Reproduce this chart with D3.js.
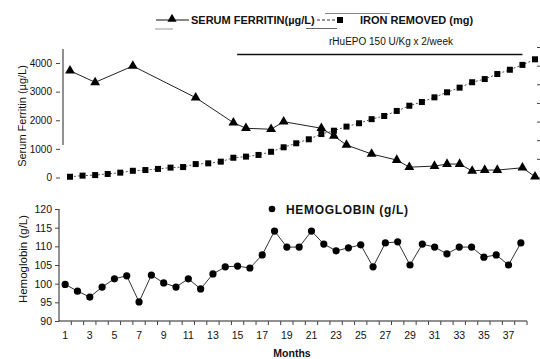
<!DOCTYPE html>
<html>
<head>
<meta charset="utf-8">
<script src="https://cdn.jsdelivr.net/npm/d3@7"></script>
<style>
  body { margin: 0; background: #fff; }
  svg { font-family: "Liberation Sans", Arial, sans-serif; }
</style>
</head>
<body>
<script>
var width = 540
var height = 359

// months 1..38
var months = [1,2,3,4,5,6,7,8,9,10,11,12,13,14,15,16,17,18,19,20,21,22,23,24,25,26,27,28,29,30,31,32,33,34,35,36,37,38]
var monthLabels = [1,3,5,7,9,11,13,15,17,19,21,23,25,27,29,31,33,35,37]

// serum ferritin (ug/L), measured only on some months
var ferritinMonths = [1,3,6,11,14,15,17,18,21,22,23,25,27,28,30,31,32,33,34,35,37,38]
var ferritin = [3730,3325,3895,2790,1915,1720,1685,1950,1720,1450,1135,820,610,360,400,470,470,230,260,260,340,30]

// cumulative iron removed (mg)
var ironRemoved = [40,100,130,190,260,360,400,460,530,560,720,760,850,1060,1120,1210,1380,1620,1835,2050,2330,2510,2730,2910,3130,3300,3570,3850,4050,4300,4570,4820,5110,5280,5550,5780,6040,6340]

// hemoglobin (g/L)
var hemoglobin = [99.8,98,96.4,99.1,101.3,102.1,95.1,102.3,100.2,99.1,101.3,98.6,102.6,104.5,104.7,104.2,107.7,114.1,109.8,109.8,114.1,110.6,108.8,109.6,110.4,104.5,110.9,111.2,105,110.6,109.8,108,109.8,109.8,107.1,107.7,105,110.9]

var ferritinTicks = [0,1000,2000,3000,4000]
var ironTicks = [0,1000,2000,3000,4000,5000,6000,7000]
var hbTicks = [90,95,100,105,110,115,120]
var epoRange = [14.3, 37]

var svg = d3.select('body').append('svg')
  .attr('width', width)
  .attr('height', height)

// ---------- top panel ----------
var xTop = d3.scaleLinear().domain([1, 38]).range([70, 535])
var yFer = d3.scaleLinear().domain([0, 4000]).range([177.5, 63])
var yIron = d3.scaleLinear().domain([0, 7000]).range([177.5, 47])

var topG = svg.append('g')

topG.append('line')
  .attr('x1', 63).attr('x2', 63)
  .attr('y1', 49).attr('y2', 145)
  .attr('stroke', '#222').attr('stroke-width', 1)

topG.append('g')
  .attr('transform', 'translate(60,0)')
  .call(d3.axisLeft(yFer).tickValues(ferritinTicks).tickFormat(d3.format('d')).tickSize(4).tickPadding(4))
  .call(g => g.select('.domain').remove())
  .call(g => g.selectAll('text').attr('font-size', 10).attr('fill', '#111'))
  .call(g => g.selectAll('line').attr('stroke', '#444'))

topG.append('g')
  .attr('transform', 'translate(537,0)')
  .call(d3.axisRight(yIron).tickValues(ironTicks).tickSize(4).tickFormat(''))
  .call(g => g.select('.domain').remove())
  .call(g => g.selectAll('line').attr('stroke', '#444'))

topG.append('text')
  .attr('transform', 'translate(26,116) rotate(-90)')
  .attr('text-anchor', 'middle')
  .attr('font-size', 11)
  .attr('fill', '#111')
  .text('Serum Ferritin (µg/L)')

// rHuEPO bar
topG.append('line')
  .attr('x1', xTop(epoRange[0])).attr('x2', xTop(epoRange[1]))
  .attr('y1', 54.5).attr('y2', 54.5)
  .attr('stroke', '#111').attr('stroke-width', 1.6)
topG.append('text')
  .attr('x', 391).attr('y', 45)
  .attr('text-anchor', 'middle')
  .attr('font-size', 10)
  .attr('fill', '#111')
  .text('rHuEPO 150 U/Kg x 2/week')

// iron removed
var ironLine = d3.line()
  .x((d, i) => xTop(months[i]))
  .y(d => yIron(d))
topG.append('path')
  .datum(ironRemoved)
  .attr('d', ironLine)
  .attr('fill', 'none')
  .attr('stroke', '#555')
  .attr('stroke-width', 1)
  .attr('stroke-dasharray', '2,2')
topG.selectAll('.sq')
  .data(ironRemoved)
  .enter().append('rect')
  .attr('class', 'sq')
  .attr('x', (d, i) => xTop(months[i]) - 3)
  .attr('y', d => yIron(d) - 3)
  .attr('width', 6).attr('height', 6)
  .attr('fill', '#000')

// serum ferritin
var ferLine = d3.line()
  .x((d, i) => xTop(ferritinMonths[i]))
  .y(d => yFer(d))
topG.append('path')
  .datum(ferritin)
  .attr('d', ferLine)
  .attr('fill', 'none')
  .attr('stroke', '#222')
  .attr('stroke-width', 1)
topG.selectAll('.tri')
  .data(ferritin)
  .enter().append('path')
  .attr('class', 'tri')
  .attr('d', d3.symbol().type(d3.symbolTriangle).size(42))
  .attr('transform', (d, i) => `translate(${xTop(ferritinMonths[i])}, ${yFer(d)})`)
  .attr('fill', '#000')

// top legend
var leg = svg.append('g')
leg.append('line').attr('x1', 156).attr('x2', 189).attr('y1', 20).attr('y2', 20).attr('stroke', '#111')
leg.append('path')
  .attr('d', d3.symbol().type(d3.symbolTriangle).size(36))
  .attr('transform', 'translate(172,19)')
  .attr('fill', '#000')
leg.append('text')
  .attr('x', 191).attr('y', 24)
  .attr('font-size', 11).attr('font-weight', 'bold').attr('fill', '#111')
  .text('SERUM FERRITIN(µg/L)')
leg.append('line').attr('x1', 317).attr('x2', 336).attr('y1', 20).attr('y2', 20)
  .attr('stroke', '#333').attr('stroke-dasharray', '3,2')
leg.append('rect').attr('x', 337).attr('y', 17).attr('width', 6).attr('height', 6).attr('fill', '#000')
leg.append('text')
  .attr('x', 360).attr('y', 24)
  .attr('font-size', 11).attr('font-weight', 'bold').attr('fill', '#111')
  .text('IRON REMOVED (mg)')
leg.append('line').attr('x1', 155).attr('x2', 173).attr('y1', 29).attr('y2', 29).attr('stroke', '#999')
leg.append('line').attr('x1', 306).attr('x2', 337).attr('y1', 28.5).attr('y2', 28.5).attr('stroke', '#666')
leg.append('line').attr('x1', 325).attr('x2', 390).attr('y1', 13.5).attr('y2', 13.5).attr('stroke', '#888')

// ---------- bottom panel ----------
var xBot = d3.scaleBand().domain(months).range([59, 527]).padding(0)
var yHb = d3.scaleLinear().domain([90, 120]).range([321, 209])

var bot = svg.append('g')

bot.append('g')
  .attr('transform', 'translate(59,0)')
  .call(d3.axisLeft(yHb).tickValues(hbTicks).tickSize(4).tickPadding(3))
  .call(g => g.select('.domain').attr('stroke', '#222').attr('d', 'M0,209V321'))
  .call(g => g.selectAll('text').attr('font-size', 10.5).attr('fill', '#111'))
  .call(g => g.selectAll('line').attr('stroke', '#444'))

// x axis: ticks at band boundaries, labels on odd months
var xAxisG = bot.append('g')
xAxisG.append('line')
  .attr('x1', 59).attr('x2', 527)
  .attr('y1', 321).attr('y2', 321)
  .attr('stroke', '#222')
xAxisG.selectAll('.xt')
  .data(months)
  .enter().append('line')
  .attr('class', 'xt')
  .attr('x1', d => xBot(d) + xBot.bandwidth())
  .attr('x2', d => xBot(d) + xBot.bandwidth())
  .attr('y1', 321).attr('y2', 325)
  .attr('stroke', '#444')
xAxisG.selectAll('.xl')
  .data(monthLabels)
  .enter().append('text')
  .attr('class', 'xl')
  .attr('x', d => xBot(d) + xBot.bandwidth() / 2)
  .attr('y', 339)
  .attr('text-anchor', 'middle')
  .attr('font-size', 10.5)
  .attr('fill', '#111')
  .text(d => d)

bot.append('text')
  .attr('x', 292).attr('y', 357)
  .attr('text-anchor', 'middle')
  .attr('font-size', 10.5).attr('font-weight', 'bold').attr('fill', '#111')
  .text('Months')

bot.append('text')
  .attr('transform', 'translate(27,259) rotate(-90)')
  .attr('text-anchor', 'middle')
  .attr('font-size', 11.5)
  .attr('fill', '#111')
  .text('Hemoglobin (g/L)')

var hbLine = d3.line()
  .x((d, i) => xBot(months[i]) + xBot.bandwidth() / 2)
  .y(d => yHb(d))
bot.append('path')
  .datum(hemoglobin)
  .attr('d', hbLine)
  .attr('fill', 'none')
  .attr('stroke', '#333')
  .attr('stroke-width', 1)
bot.selectAll('.dot')
  .data(hemoglobin)
  .enter().append('circle')
  .attr('class', 'dot')
  .attr('r', 3.6)
  .attr('cx', (d, i) => xBot(months[i]) + xBot.bandwidth() / 2)
  .attr('cy', d => yHb(d))
  .attr('fill', '#000')

// hemoglobin legend
bot.append('circle').attr('cx', 272).attr('cy', 209).attr('r', 3.3).attr('fill', '#000')
bot.append('text')
  .attr('x', 286).attr('y', 214)
  .attr('font-size', 12).attr('font-weight', 'bold').attr('fill', '#111')
  .attr('textLength', 122)
  .text('HEMOGLOBIN (g/L)')
</script>
</body>
</html>
